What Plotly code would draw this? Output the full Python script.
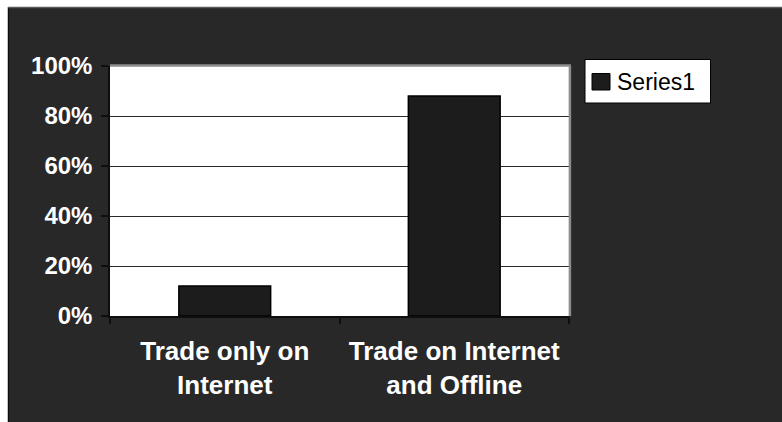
import plotly.graph_objects as go

# Chart data
categories = ["Trade only on<br>Internet", "Trade on Internet<br>and Offline"]
shares = [0.12, 0.88]
series_name = "Series1"
y_tick_values = [0, 0.2, 0.4, 0.6, 0.8, 1.0]
y_tick_labels = ["0%", "20%", "40%", "60%", "80%", "100%"]

W, H = 782, 422
L, R, T, B = 110, 569, 66, 316  # plot area edges in pixels

BG = "#282828"
BAR = "#1c1c1c"


def fx(p):
    return (p - L) / (R - L)


def fy(p):
    return (B - p) / (B - T)


fig = go.Figure()
fig.add_trace(go.Bar(
    x=categories, y=shares, name=series_name, width=0.4,
    marker=dict(color=BAR, line=dict(color="#000000", width=1.5)),
    showlegend=False,
))

shapes = [
    # white margin strips at left and top of the frame
    dict(type="rect", xref="paper", yref="paper", x0=fx(0), x1=fx(8.5),
         y0=fy(H), y1=fy(0), fillcolor="white", line_width=0, layer="below"),
    dict(type="rect", xref="paper", yref="paper", x0=fx(0), x1=fx(W),
         y0=fy(7), y1=fy(0), fillcolor="white", line_width=0, layer="below"),
    dict(type="line", xref="paper", yref="paper", x0=fx(8.5), x1=fx(8.5),
         y0=fy(H), y1=fy(7), line=dict(color="#0e0e0e", width=1.5)),
    dict(type="line", xref="paper", yref="paper", x0=fx(8), x1=fx(W),
         y0=fy(7.5), y1=fy(7.5), line=dict(color="#5a5a5a", width=1.5)),
    # grey frame on top and right of the plot area
    dict(type="line", xref="paper", yref="paper", x0=0, x1=1.004, y0=1.002, y1=1.002,
         line=dict(color="#8c8c8c", width=2.5)),
    dict(type="line", xref="paper", yref="paper", x0=1.002, x1=1.002, y0=0, y1=1.002,
         line=dict(color="#8c8c8c", width=2.5)),
    # legend box and swatch
    dict(type="rect", xref="paper", yref="paper", x0=fx(585), x1=fx(710.5),
         y0=fy(103), y1=fy(59.5), fillcolor="white", line=dict(color="#000000", width=1)),
    dict(type="rect", xref="paper", yref="paper", x0=fx(592), x1=fx(610),
         y0=fy(90), y1=fy(73.5), fillcolor=BAR, line=dict(color="#000000", width=1)),
]

fig.add_annotation(
    xref="paper", yref="paper", x=fx(615), y=fy(81.5), xanchor="left", yanchor="middle",
    text=series_name, showarrow=False,
    font=dict(family="Liberation Sans, Arial", size=23, color="#000000"),
)

fig.update_layout(
    width=W, height=H,
    margin=dict(l=L, r=W - R, t=T, b=H - B, pad=0),
    paper_bgcolor=BG, plot_bgcolor="white",
    shapes=shapes,
    showlegend=False,
    bargap=0.6,
    xaxis=dict(
        type="category", range=[-0.5, 1.5], tickson="boundaries",
        ticks="outside", ticklen=6, tickwidth=1.5, tickcolor="#0e0e0e",
        showline=True, linecolor="#0e0e0e", linewidth=1.5, showgrid=False,
        ticklabelstandoff=11,
        tickfont=dict(family="Liberation Sans, Arial", size=26, color="white", weight="bold"),
    ),
    yaxis=dict(
        range=[0, 1], tickvals=y_tick_values, ticktext=y_tick_labels,
        ticks="outside", ticklen=7, tickwidth=1.5, tickcolor="#0e0e0e",
        showline=True, linecolor="#0e0e0e", linewidth=1.5,
        showgrid=True, gridcolor="#2a2a2a", gridwidth=1, zeroline=False,
        ticklabelstandoff=4,
        tickfont=dict(family="Liberation Sans, Arial", size=24, color="white", weight="bold"),
    ),
)

fig.write_html("out.html")
